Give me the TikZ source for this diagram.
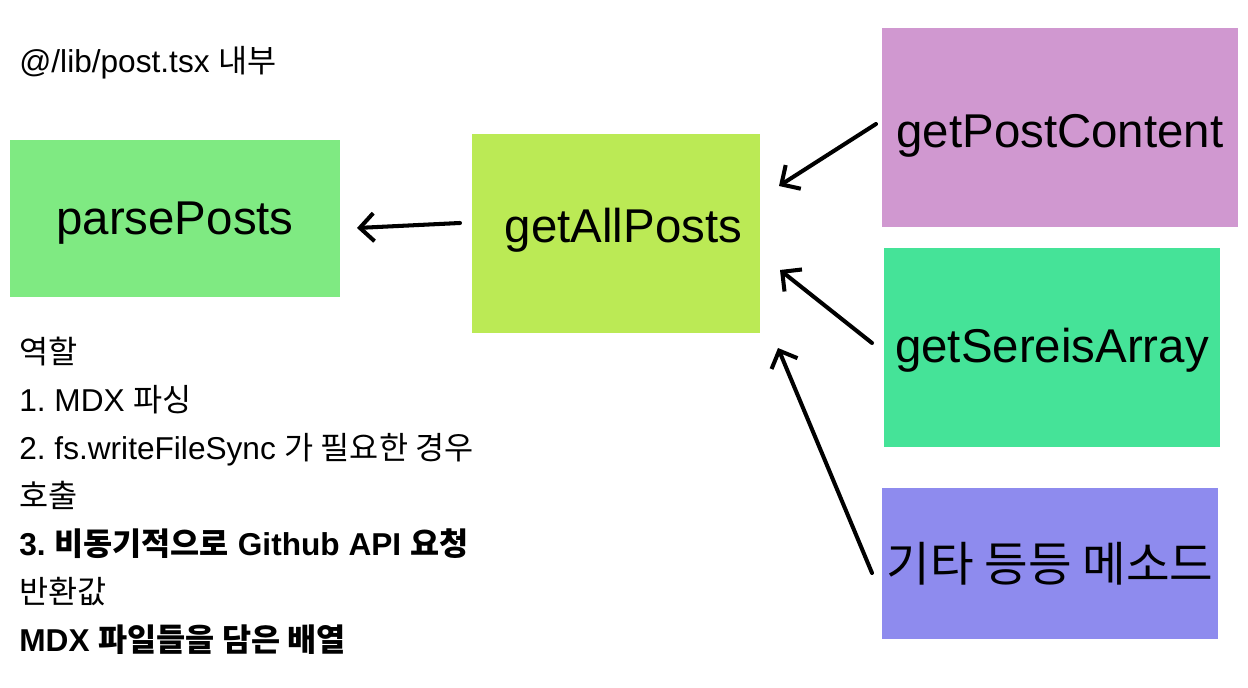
\documentclass[tikz,border=0pt]{standalone}
\usepackage{fontspec}
\setmainfont{Liberation Sans}
\newfontfamily\kr{Noto Sans CJK KR}
\usetikzlibrary{arrows.meta}
\definecolor{PP}{HTML}{7FEA82}
\definecolor{AP}{HTML}{BBEA55}
\definecolor{PC}{HTML}{D098D0}
\definecolor{SA}{HTML}{45E398}
\definecolor{ET}{HTML}{8E8BEE}
\frenchspacing
\tikzset{
  fnbox/.style={inner sep=0pt, font=\fontsize{27}{32}\selectfont},
  note/.style={anchor=base west, inner sep=0pt, font=\fontsize{18}{21}\selectfont},
  call/.style={line width=2.3pt, line cap=round, line join=round, -{Straight Barb[length=8pt,width=16pt]}}
}

\begin{document}
\begin{tikzpicture}[x=0.02cm, y=-0.02cm]%
\useasboundingbox (0,0) rectangle (1248,688);%
\node[note] (title) at (19,73) {@/lib/post.tsx {\kr 내부}};%
% boxes
\node[fnbox, fill=PP, minimum width=6.60cm, minimum height=3.14cm, text height=24pt] (parse) at (175,218.5) {parsePosts};%
\node[fnbox, fill=AP, minimum width=5.76cm, minimum height=3.98cm, text height=16pt] (all) at (616,233.5) {\hspace{0.3cm}getAllPosts};%
\node[fnbox, fill=PC, minimum width=7.12cm, minimum height=3.98cm, text height=28.5pt] (content) at (1060,127.5) {getPostContent};%
\node[fnbox, fill=SA, minimum width=6.72cm, minimum height=3.98cm, text height=22.7pt] (series) at (1052,347.5) {getSereisArray};%
\node[fnbox, fill=ET, minimum width=6.72cm, minimum height=3.02cm] (etc) at (1050,563.5) {\kr 기타 등등 메소드};%
% notes
\node[note] (role) at (19,364) {\kr 역할};%
\node[note] (r1) at (19,412) {1. MDX {\kr 파싱}};%
\node[note] (r2) at (19,460) {2. fs.writeFileSync {\kr 가 필요한 경우}};%
\node[note] (r2b) at (19,508) {\kr 호출};%
\node[note] (r3) at (19,556) {\bfseries 3. {\kr 비동기적으로} Github API {\kr 요청}};%
\node[note] (ret) at (19,604) {\kr 반환값};%
\node[note] (retv) at (19,652) {\bfseries MDX {\kr 파일들을 담은 배열}};%
% arrows
\coordinate (allOut) at (460,223);%
\coordinate (parseIn) at (357,228);%
\coordinate (contentOut) at (876,124);%
\coordinate (allIn1) at (779,186);%
\coordinate (seriesOut) at (872,343);%
\coordinate (allIn2) at (780,270);%
\coordinate (etcOut) at (872,573);%
\coordinate (allIn3) at (778,348);%
\draw[call] (allOut) -- (parseIn);%
\draw[call] (contentOut) -- (allIn1);%
\draw[call] (seriesOut) -- (allIn2);%
\draw[call] (etcOut) -- (allIn3);%
\end{tikzpicture}
\end{document}
